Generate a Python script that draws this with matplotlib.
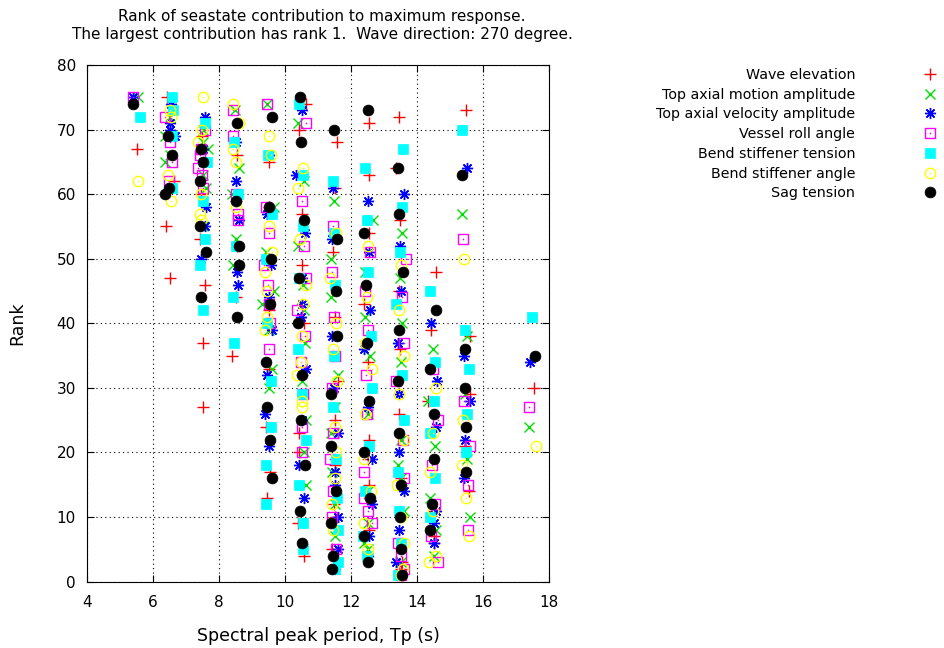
import matplotlib
matplotlib.use("Agg")
import matplotlib.pyplot as plt

# ---------------- data (Tp in s, rank) ----------------
series_names = ["Wave elevation", "Top axial motion amplitude", "Top axial velocity amplitude",
                "Vessel roll angle", "Bend stiffener tension", "Bend stiffener angle", "Sag tension"]

wave_tp = [5.5,
           6.41, 6.65, 6.39, 6.52,
           7.48, 7.45, 7.41, 7.59, 7.5, 7.52,
           8.56, 8.56, 8.52, 8.4, 8.5,
           9.52, 9.52, 9.41, 9.55, 9.44, 9.5, 9.5, 9.5,
           10.63, 10.43, 10.5, 10.53, 10.58, 10.41, 10.41, 10.38, 10.58, 10.5,
           11.59, 11.52, 11.46, 11.52, 11.62, 11.52, 11.52, 11.48, 11.41, 11.5,
           12.56, 12.56, 12.56, 12.4, 12.5, 12.56, 12.56, 12.56, 12.5,
           13.44, 13.37, 13.48, 13.44, 13.48, 13.44, 13.55, 13.5, 13.5, 13.5,
           14.58, 14.43, 14.33, 14.5, 14.5, 14.5,
           15.48, 15.62, 15.62, 15.44, 15.59,
           17.54]
wave_rank = [67,
             75, 62, 55, 47,
             69, 60, 53, 46, 37, 27,
             66, 52, 44, 35, 59,
             65, 33, 24, 17, 13, 58, 50, 42,
             74, 70, 57, 49, 40, 23, 20, 9, 4, 32,
             68, 61, 51, 41, 31, 25, 18, 12, 5, 10,
             71, 63, 54, 43, 34, 22, 15, 8, 19,
             72, 64, 56, 45, 36, 26, 3, 1, 16, 2,
             48, 39, 28, 11, 7, 6,
             73, 38, 29, 21, 14,
             30]

motion_tp = [5.55,
             6.36, 6.36, 6.5, 6.5,
             7.52, 7.67, 7.62, 7.5, 7.5, 7.5,
             8.47, 8.6, 8.4, 8.5, 8.43,
             9.44, 9.67, 9.41, 9.67, 9.31, 9.62, 9.52, 9.5,
             10.38, 10.58, 10.38, 10.56, 10.58, 10.6, 10.53, 10.63, 10.58, 10.63,
             11.48, 11.38, 11.38, 11.62, 11.38, 11.41, 11.5, 11.5, 11.5, 11.5,
             12.66, 12.43, 12.43, 12.58, 12.38, 12.5, 12.5, 12.5, 12.5,
             13.55, 13.48, 13.56, 13.52, 13.41, 13.62, 13.5, 13.5, 13.5, 13.5,
             14.48, 14.33, 14.56, 14.38, 14.58, 14.53,
             15.37, 15.44, 15.62, 15.5, 15.5,
             17.38]
motion_rank = [75,
               69, 65, 72, 66,
               70, 67, 61, 68, 63, 55,
               73, 64, 60, 53, 49,
               74, 58, 51, 45, 43, 33, 30, 39,
               71, 62, 52, 46, 42, 37, 31, 25, 20, 15,
               59, 50, 44, 32, 23, 17, 27, 12, 7, 2,
               56, 48, 41, 35, 6, 26, 14, 9, 5,
               54, 47, 40, 34, 18, 11, 22, 16, 3, 1,
               36, 28, 21, 13, 8, 4,
               57, 29, 10, 38, 19,
               24]

velocity_tp = [5.4,
               6.55, 6.52, 6.67, 6.5,
               7.57, 7.62, 7.59, 7.46, 7.5, 7.5,
               8.53, 8.6, 8.56, 8.58, 8.5,
               9.46, 9.57, 9.62, 9.44, 9.38, 9.52, 9.5, 9.5,
               10.53, 10.33, 10.6, 10.48, 10.63, 10.43, 10.58, 10.5, 10.5, 10.5,
               11.44, 11.41, 11.41, 11.48, 11.62, 11.52, 11.62, 11.62, 11.5, 11.5,
               12.53, 12.56, 12.58, 12.38, 12.5, 12.63, 12.63, 12.56, 12.5,
               13.62, 13.48, 13.52, 13.41, 13.44, 13.44, 13.62, 13.44, 13.37, 13.5,
               14.43, 14.6, 14.58, 14.58, 14.53, 14.5,
               15.52, 15.41, 15.62, 15.46, 15.41,
               17.43]
velocity_rank = [75,
                 74, 71, 69, 70,
                 72, 58, 55, 50, 67, 65,
                 62, 56, 48, 46, 68,
                 57, 49, 39, 32, 26, 21, 66, 44,
                 73, 63, 54, 41, 33, 18, 13, 47, 43, 25,
                 61, 53, 38, 30, 23, 15, 10, 5, 17, 2,
                 59, 51, 42, 36, 27, 19, 12, 7, 4,
                 60, 52, 45, 37, 29, 20, 14, 8, 3, 1,
                 40, 31, 24, 11, 6, 9,
                 64, 35, 28, 22, 16,
                 34]

roll_tp = [5.4,
           6.36, 6.57, 6.49, 6.5,
           7.59, 7.44, 7.41, 7.37, 7.48, 7.5,
           8.43, 8.43, 8.58, 8.58, 8.5,
           9.44, 9.41, 9.52, 9.37, 9.47, 9.52, 9.54, 9.52,
           10.63, 10.5, 10.58, 10.63, 10.36, 10.6, 10.48, 10.56, 10.53, 10.53,
           11.44, 11.41, 11.48, 11.41, 11.44, 11.37, 11.44, 11.41, 11.55, 11.5,
           12.58, 12.43, 12.5, 12.46, 12.48, 12.38, 12.38, 12.63, 12.5,
           13.67, 13.55, 13.62, 13.37, 13.57, 13.62, 13.41, 13.62, 13.5, 13.5,
           14.48, 14.63, 14.46, 14.56, 14.43, 14.63,
           15.39, 15.41, 15.62, 15.55, 15.55,
           17.38]
roll_rank = [75,
             72, 65, 62, 68,
             70, 67, 66, 64, 63, 61,
             73, 69, 57, 56, 60,
             74, 58, 54, 49, 46, 43, 40, 36,
             71, 59, 52, 47, 42, 38, 34, 29, 24, 20,
             55, 48, 41, 30, 23, 19, 14, 10, 5, 35,
             51, 45, 39, 32, 26, 17, 13, 9, 11,
             50, 44, 37, 31, 22, 16, 6, 2, 4, 1,
             33, 25, 18, 12, 7, 3,
             53, 28, 21, 15, 8,
             27]

tension_tp = [5.6,
              6.57, 6.6, 6.57, 6.57,
              7.59, 7.65, 7.52, 7.59, 7.41, 7.52,
              8.46, 8.58, 8.41, 8.44, 8.5,
              9.48, 9.62, 9.41, 9.44, 9.59, 9.59, 9.41, 9.41,
              10.43, 10.56, 10.56, 10.43, 10.4, 10.5, 10.63, 10.43, 10.56, 10.56,
              11.44, 11.48, 11.52, 11.48, 11.44, 11.55, 11.59, 11.62, 11.62, 11.5,
              12.43, 12.48, 12.53, 12.6, 12.63, 12.56, 12.43, 12.36, 12.48,
              13.59, 13.55, 13.48, 13.37, 13.55, 13.62, 13.41, 13.46, 13.52, 13.41,
              14.38, 14.56, 14.53, 14.38, 14.56, 14.38,
              15.37, 15.46, 15.59, 15.52, 15.48,
              17.47]
tension_rank = [72,
                75, 73, 69, 61,
                71, 65, 59, 53, 49, 42,
                68, 60, 44, 37, 52,
                66, 57, 50, 40, 31, 24, 18, 12,
                74, 63, 55, 47, 36, 29, 22, 15, 9, 5,
                62, 54, 46, 35, 27, 19, 13, 8, 3, 2,
                64, 56, 48, 38, 30, 21, 14, 7, 4,
                67, 58, 51, 43, 32, 25, 17, 11, 6, 1,
                45, 34, 28, 23, 16, 10,
                70, 39, 33, 26, 20,
                41]

angle_tp = [5.55,
            6.55, 6.45, 6.54, 6.5,
            7.52, 7.48, 7.37, 7.44, 7.41, 7.46,
            8.43, 8.6, 8.43, 8.5, 8.5,
            9.52, 9.59, 9.52, 9.62, 9.39, 9.44, 9.44, 9.39,
            10.56, 10.38, 10.46, 10.63, 10.56, 10.48, 10.36, 10.53, 10.5, 10.5,
            11.55, 11.37, 11.55, 11.44, 11.59, 11.55, 11.41, 11.44, 11.5, 11.5,
            12.53, 12.48, 12.43, 12.63, 12.41, 12.38, 12.6, 12.38, 12.53,
            13.52, 13.44, 13.62, 13.46, 13.62, 13.39, 13.62, 13.59, 13.5, 13.5,
            14.58, 14.48, 14.4, 14.48, 14.58, 14.36,
            15.41, 15.39, 15.37, 15.48, 15.59,
            17.6]
angle_rank = [62,
              72, 63, 59, 73,
              75, 70, 68, 60, 57, 56,
              74, 71, 67, 58, 65,
              69, 66, 55, 51, 48, 45, 41, 39,
              64, 61, 53, 46, 43, 34, 32, 28, 38, 27,
              54, 47, 40, 36, 31, 20, 12, 8, 24, 16,
              52, 44, 37, 33, 26, 19, 14, 9, 5,
              49, 42, 35, 29, 22, 15, 6, 2, 10, 1,
              30, 23, 17, 11, 4, 3,
              50, 25, 18, 13, 7,
              21]

sag_tp = [5.4,
          6.45, 6.59, 6.47, 6.36,
          7.44, 7.52, 7.41, 7.41, 7.62, 7.44,
          8.56, 8.53, 8.6, 8.6, 8.56,
          9.62, 9.52, 9.59, 9.55, 9.41, 9.44, 9.55, 9.62,
          10.46, 10.48, 10.58, 10.43, 10.38, 10.53, 10.48, 10.6, 10.46, 10.53,
          11.48, 11.59, 11.54, 11.59, 11.38, 11.38, 11.55, 11.38, 11.44, 11.41,
          12.5, 12.38, 12.46, 12.48, 12.56, 12.38, 12.58, 12.4, 12.5,
          13.41, 13.44, 13.59, 13.44, 13.41, 13.44, 13.52, 13.48, 13.52, 13.55,
          14.58, 14.38, 14.53, 14.53, 14.46, 14.38,
          15.37, 15.46, 15.46, 15.48, 15.48,
          17.59]
sag_rank = [74,
            69, 66, 61, 60,
            67, 65, 62, 55, 51, 44,
            71, 59, 52, 49, 41,
            72, 58, 50, 43, 34, 27, 22, 16,
            75, 68, 56, 47, 40, 32, 25, 18, 11, 6,
            70, 53, 45, 38, 29, 21, 14, 9, 4, 2,
            73, 54, 46, 37, 28, 20, 13, 7, 3,
            64, 57, 48, 39, 31, 23, 15, 10, 5, 1,
            42, 33, 26, 19, 12, 8,
            63, 36, 30, 24, 17,
            35]

x_ticks = [4, 6, 8, 10, 12, 14, 16, 18]
y_ticks = [0, 10, 20, 30, 40, 50, 60, 70, 80]

# ---------------- styles ----------------
plt.rcParams['font.family'] = ['DejaVu Sans']
FS = 11

styles = [
    dict(color="#ff0000", marker="+", ms=8, mew=1.0, mfc="#ff0000", dot=False),
    dict(color="#00e000", marker="x", ms=6.5, mew=1.0, mfc="#00e000", dot=False),
    dict(color="#0000ff", marker=(8, 2, 0), ms=8, mew=1.0, mfc="#0000ff", dot=False),
    dict(color="#ff00ff", marker="s", ms=6.5, mew=1.0, mfc="none", dot=True),
    dict(color="#00ffff", marker="s", ms=6.5, mew=0.5, mfc="#00ffff", dot=False),
    dict(color="#ffff00", marker="o", ms=7.5, mew=1.0, mfc="none", dot=True),
    dict(color="#000000", marker="o", ms=7.8, mew=0.5, mfc="#000000", dot=False),
]

data = [(wave_tp, wave_rank), (motion_tp, motion_rank), (velocity_tp, velocity_rank),
        (roll_tp, roll_rank), (tension_tp, tension_rank), (angle_tp, angle_rank),
        (sag_tp, sag_rank)]

W, H = 944, 648
fig = plt.figure(figsize=(W / 100, H / 100), dpi=100)
ax = fig.add_axes([87 / W, 1 - 581.6 / H, (549 - 87) / W, (581.6 - 65) / H])

handles = []
for (tp, rk), st in zip(data, styles):
    ln, = ax.plot(tp, rk, linestyle="none", marker=st["marker"], ms=st["ms"],
                  mew=st["mew"], mec=st["color"], mfc=st["mfc"])
    h = ln
    if st["dot"]:
        dt, = ax.plot(tp, rk, linestyle="none", marker="o", ms=1.2, mew=0,
                      mfc=st["color"])
        h = (ln, dt)
    handles.append(h)

ax.set_xlim(4, 18)
ax.set_ylim(0, 80)
ax.set_xticks(x_ticks)
ax.set_yticks(y_ticks)
ax.tick_params(direction="in", top=True, right=True, length=5, width=0.8,
               labelsize=FS)
ax.tick_params(axis="x", pad=10)
ax.tick_params(axis="y", pad=8)
ax.grid(True, color="black", linestyle=(0, (1, 3)), linewidth=0.8)
for sp in ax.spines.values():
    sp.set_linewidth(0.8)

ax.set_xlabel("Spectral peak period, Tp (s)", fontsize=12.5, labelpad=12)
ax.set_ylabel("Rank", fontsize=12.5, labelpad=22)
fig.text(322 / W, 1 - 17 / H, "Rank of seastate contribution to maximum response.",
         ha="center", va="center", fontsize=FS)
fig.text(322 / W, 1 - 35 / H,
         "The largest contribution has rank 1.  Wave direction: 270 degree.",
         ha="center", va="center", fontsize=FS)

LFS = 10.3
leg = ax.legend(handles, series_names, loc="upper right",
                bbox_to_anchor=(944.5 / W, 1 - 68 / H), bbox_transform=fig.transFigure,
                markerfirst=False, frameon=False, fontsize=LFS,
                labelspacing=0.40, handlelength=2.0, handletextpad=4.24,
                borderpad=0, borderaxespad=0)

fig.savefig("out.png", dpi=100)
